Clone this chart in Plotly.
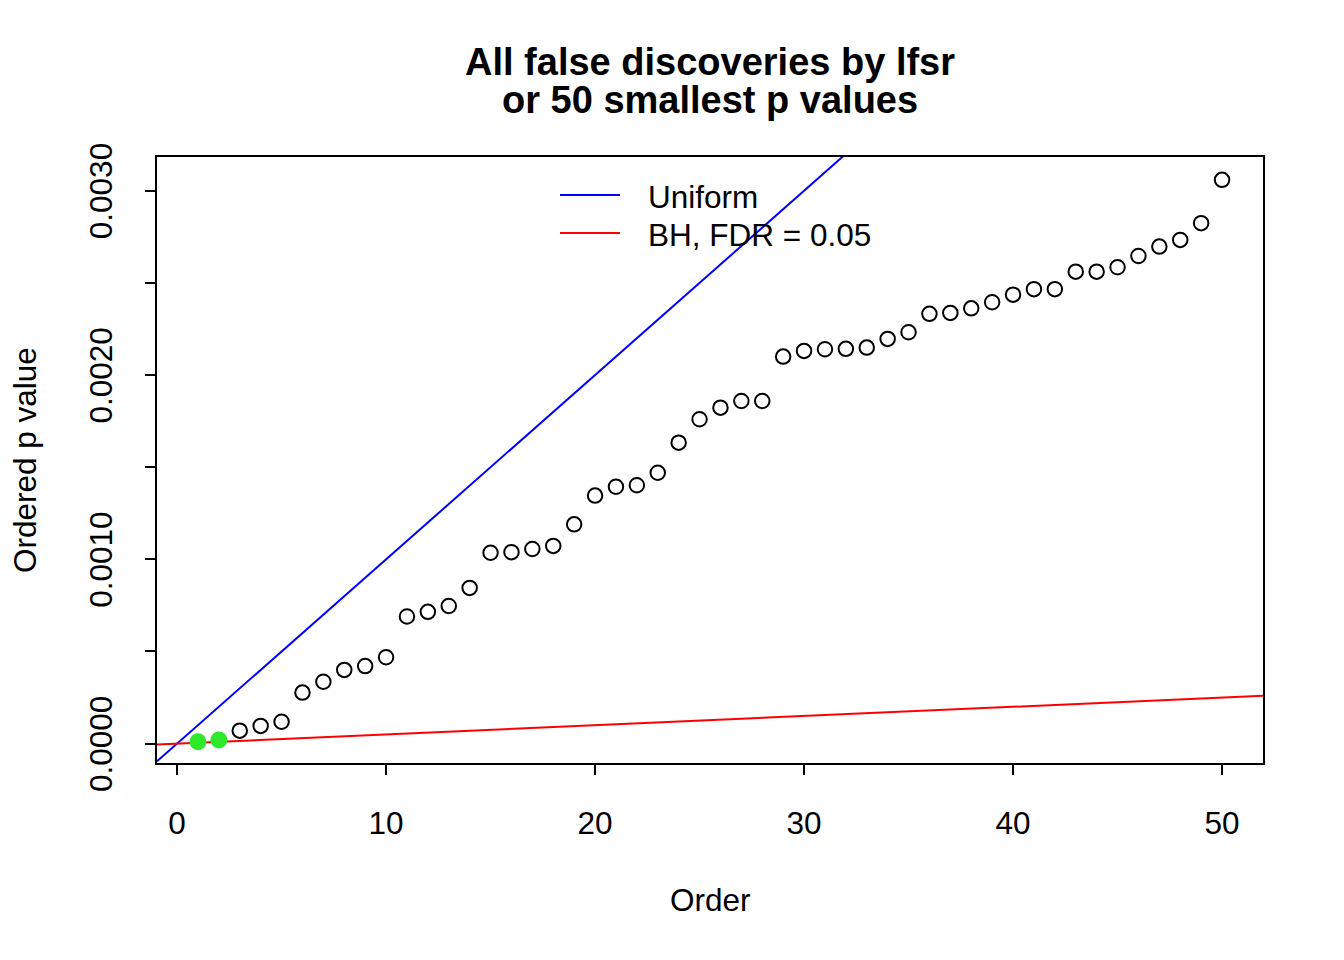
import plotly.graph_objects as go

# ---------------- data ----------------
order = list(range(1, 51))
p_values = [
    0.0000109, 0.0000200, 0.0000705, 0.0000960, 0.0001190,
    0.0002770, 0.0003360, 0.0004000, 0.0004210, 0.0004690,
    0.0006900, 0.0007150, 0.0007470, 0.0008450, 0.0010360,
    0.0010390, 0.0010560, 0.0010730, 0.0011900, 0.0013460,
    0.0013940, 0.0014020, 0.0014700, 0.0016330, 0.0017600,
    0.0018230, 0.0018590, 0.0018590, 0.0021000, 0.0021310,
    0.0021400, 0.0021420, 0.0021490, 0.0021960, 0.0022320,
    0.0023320, 0.0023370, 0.0023620, 0.0023950, 0.0024360,
    0.0024660, 0.0024660, 0.0025610, 0.0025610, 0.0025850,
    0.0026460, 0.0026970, 0.0027330, 0.0028240, 0.0030590,
]
n_false_discoveries = 2          # highlighted in green
n_tests = 10000                  # uniform line slope 1/n
fdr = 0.05                       # BH line slope fdr/n

x_ticks = [0, 10, 20, 30, 40, 50]
y_ticks = [0.0, 0.0005, 0.0010, 0.0015, 0.0020, 0.0025, 0.0030]
y_ticklabels = ["0.0000", "", "0.0010", "", "0.0020", "", "0.0030"]

x_range = [-0.96, 51.96]
y_range = [-0.000105, 0.003183]

# ---------------- figure ----------------
FONT = "Liberation Sans, Arial, Helvetica, sans-serif"
BASE = 31.5
TITLE = 38
fig = go.Figure()

line_x = [x_range[0], x_range[1]]
fig.add_trace(go.Scatter(x=line_x, y=[v / n_tests for v in line_x], mode="lines",
                         line=dict(color="#0000FF", width=2), hoverinfo="skip",
                         showlegend=False))
fig.add_trace(go.Scatter(x=line_x, y=[fdr * v / n_tests for v in line_x], mode="lines",
                         line=dict(color="#FF0000", width=2), hoverinfo="skip",
                         showlegend=False))

fig.add_trace(go.Scatter(x=order[n_false_discoveries:], y=p_values[n_false_discoveries:],
                         mode="markers",
                         marker=dict(symbol="circle-open", size=14.5, color="black",
                                     line=dict(width=2, color="black")),
                         showlegend=False))
fig.add_trace(go.Scatter(x=order[:n_false_discoveries], y=p_values[:n_false_discoveries],
                         mode="markers",
                         marker=dict(symbol="circle", size=17, color="#2ee82a",
                                     line=dict(width=0)),
                         showlegend=False))

# page offset: the browser body adds an 8px margin around the figure
OFF = 8
# plot area in screen pixels
SL, SR, ST, SB = 157, 1263, 157, 763
W, H = 1344 - OFF, 960 - OFF
pw, ph = SR - SL, SB - ST

def px(xp):
    return (xp - SL) / pw

def py(yp):
    return (SB - yp) / ph

annotations = [
    dict(text="<b>All false discoveries by lfsr</b>", x=px(710), y=py(62)),
    dict(text="<b>or 50 smallest p values</b>", x=px(710), y=py(100)),
]
for a in annotations:
    a.update(xref="paper", yref="paper", xanchor="center", yanchor="middle",
             showarrow=False, font=dict(family=FONT, size=TITLE, color="black"))

annotations += [
    dict(text="Order", x=px(710), y=py(900), xref="paper", yref="paper",
         xanchor="center", yanchor="middle", showarrow=False,
         font=dict(family=FONT, size=BASE, color="black")),
    dict(text="Ordered p value", x=px(25), y=py(460), xref="paper", yref="paper",
         xanchor="center", yanchor="middle", showarrow=False, textangle=-90,
         font=dict(family=FONT, size=BASE, color="black")),
    dict(text="Uniform", x=px(646), y=py(197), xref="paper", yref="paper",
         xanchor="left", yanchor="middle", showarrow=False,
         font=dict(family=FONT, size=BASE, color="black")),
    dict(text="BH, FDR = 0.05", x=px(646), y=py(235), xref="paper", yref="paper",
         xanchor="left", yanchor="middle", showarrow=False,
         font=dict(family=FONT, size=BASE, color="black")),
]

shapes = [
    dict(type="line", xref="paper", yref="paper", x0=px(560), x1=px(620),
         y0=py(195), y1=py(195), line=dict(color="#0000FF", width=2)),
    dict(type="line", xref="paper", yref="paper", x0=px(560), x1=px(620),
         y0=py(233), y1=py(233), line=dict(color="#FF0000", width=2)),
]

fig.update_layout(
    width=W, height=H,
    margin=dict(l=SL - OFF, r=W - (SR - OFF), t=ST - OFF, b=H - (SB - OFF), pad=0),
    paper_bgcolor="white", plot_bgcolor="white",
    font=dict(family=FONT, size=BASE, color="black"),
    annotations=annotations, shapes=shapes,
    xaxis=dict(range=x_range, tickvals=x_ticks, ticktext=[str(v) for v in x_ticks],
               showgrid=False, zeroline=False, showline=True, mirror=True,
               linecolor="black", linewidth=2, ticks="outside", ticklen=10,
               tickwidth=2, tickcolor="black", ticklabelstandoff=21,
               tickfont=dict(family=FONT, size=BASE, color="black")),
    yaxis=dict(range=y_range, tickvals=y_ticks, ticktext=y_ticklabels,
               showgrid=False, zeroline=False, showline=True, mirror=True,
               linecolor="black", linewidth=2, ticks="outside", ticklen=10,
               tickwidth=2, tickcolor="black", tickangle=-90,
               ticklabelstandoff=20, ticklabelshift=5,
               tickfont=dict(family=FONT, size=BASE, color="black")),
)

fig.write_html("out.html")
